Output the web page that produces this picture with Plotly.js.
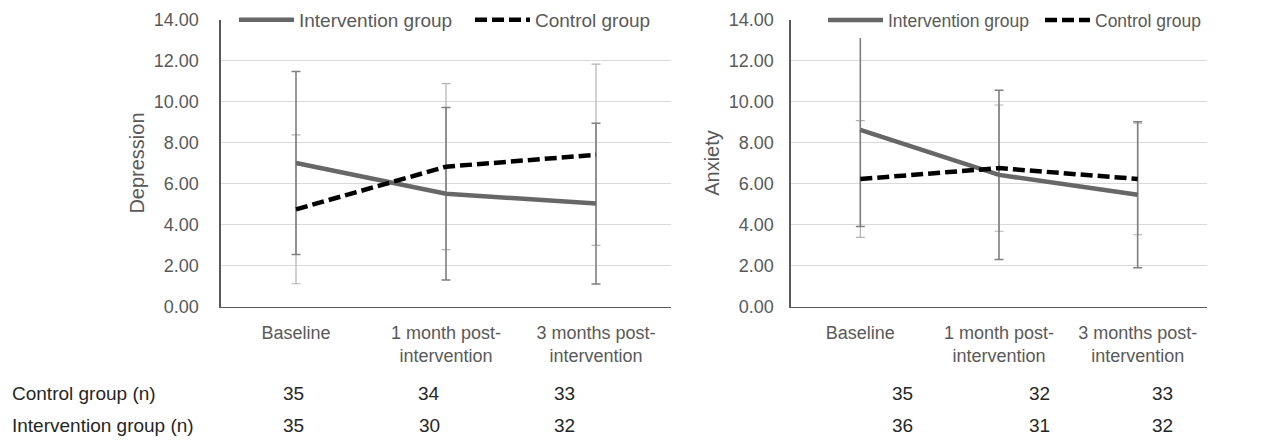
<!DOCTYPE html>
<html>
<head>
<meta charset="utf-8">
<script src="https://cdn.plot.ly/plotly-3.0.1.min.js"></script>
<style>
  html, body { margin: 0; padding: 0; background: #ffffff; }
  #chart { width: 1263px; height: 440px; }
</style>
</head>
<body>
<div id="chart"></div>
<script>
// ---------- data ----------
var categories = ['Baseline', '1 month post-<br>intervention', '3 months post-<br>intervention'];
var yTickVals = [0, 2, 4, 6, 8, 10, 12, 14];

var depInterventionMean = [7.00, 5.50, 5.02];
var depInterventionSD   = [4.46, 4.21, 3.92];
var depControlMean      = [4.74, 6.82, 7.40];
var depControlSD        = [3.63, 4.05, 4.42];

var anxInterventionMean = [8.62, 6.42, 5.45];
var anxInterventionSD   = [4.72, 4.13, 3.56];
var anxControlMean      = [6.22, 6.75, 6.22];
var anxControlSD        = [2.85, 3.08, 2.72];

var tableRowLabels   = ['Control group (n)', 'Intervention group (n)'];
var depControlN      = [35, 34, 33];
var depInterventionN = [35, 30, 32];
var anxControlN      = [35, 32, 33];
var anxInterventionN = [36, 31, 32];

// ---------- layout helpers ----------
var W = 1263, H = 440;
function px(x) { return x / W; }
function py(y) { return 1 - y / H; }
var FONT = 'Liberation Sans, Arial, sans-serif';
var GREY_TXT = '#595959';

function errTrace(xa, ya, means, sds, color, thick) {
  return {
    type: 'scatter', mode: 'markers', x: categories, y: means,
    xaxis: xa, yaxis: ya, showlegend: false, hoverinfo: 'skip',
    marker: { size: 1, color: 'rgba(0,0,0,0)' },
    error_y: { type: 'data', array: sds, visible: true, color: color, thickness: thick, width: 4.5 }
  };
}
function lineTrace(xa, ya, means, name, color, dash, legend) {
  return {
    type: 'scatter', mode: 'lines', x: categories, y: means, name: name,
    xaxis: xa, yaxis: ya, legend: legend,
    line: { color: color, width: 4.5, dash: dash }
  };
}

var INT_COL = '#676767', CTRL_COL = '#000000';
var INT_ERR = '#7f7f7f', CTRL_ERR = '#b3b3b3';

var data = [
  errTrace('x', 'y', depControlMean, depControlSD, CTRL_ERR, 1.2),
  errTrace('x', 'y', depInterventionMean, depInterventionSD, INT_ERR, 1.6),
  lineTrace('x', 'y', depInterventionMean, 'Intervention group', INT_COL, 'solid', 'legend'),
  lineTrace('x', 'y', depControlMean, 'Control group', CTRL_COL, '12px,5px', 'legend2'),
  errTrace('x2', 'y2', anxControlMean, anxControlSD, CTRL_ERR, 1.2),
  errTrace('x2', 'y2', anxInterventionMean, anxInterventionSD, INT_ERR, 1.6),
  lineTrace('x2', 'y2', anxInterventionMean, 'Intervention group', INT_COL, 'solid', 'legend3'),
  lineTrace('x2', 'y2', anxControlMean, 'Control group', CTRL_COL, '12px,5px', 'legend4')
];

function xAxis(domain, anchor) {
  return {
    domain: domain, anchor: anchor, type: 'category', range: [-0.5, 2.5],
    showline: true, linecolor: '#595959', linewidth: 1.6,
    showgrid: false, zeroline: false, ticks: '',
    tickfont: { family: FONT, size: 18, color: GREY_TXT },
    ticklabelstandoff: 9, fixedrange: true, automargin: false
  };
}
function yAxis(domain, anchor, title, standoff, tickStandoff) {
  return {
    domain: domain, anchor: anchor, range: [0, 14],
    tickvals: yTickVals, tickformat: '.2f',
    showgrid: true, gridcolor: '#d9d9d9', gridwidth: 1,
    zeroline: false, showline: true, linecolor: '#595959', linewidth: 1.6,
    ticks: '', ticklabelstandoff: tickStandoff,
    tickfont: { family: FONT, size: 18, color: GREY_TXT },
    title: { text: title, font: { family: FONT, size: 20, color: GREY_TXT }, standoff: standoff },
    fixedrange: true, automargin: false
  };
}

var yDom = [py(306.5), py(19.5)];

var annotations = [];
var rowY = [393, 425];
tableRowLabels.forEach(function (t, i) {
  annotations.push({
    xref: 'paper', yref: 'paper', x: px(10), y: py(rowY[i]), xanchor: 'left', yanchor: 'middle',
    text: t, showarrow: false, font: { family: FONT, size: 19, color: '#262626' }
  });
});
var depColX = [293, 429, 564];
var anxColX = [902, 1039, 1162];
function addRow(values, cols, yPix) {
  values.forEach(function (v, i) {
    annotations.push({
      xref: 'paper', yref: 'paper', x: px(cols[i]), y: py(yPix), xanchor: 'center', yanchor: 'middle',
      text: String(v), showarrow: false, font: { family: FONT, size: 19, color: '#262626' }
    });
  });
}
addRow(depControlN, depColX, rowY[0]);
addRow(depInterventionN, depColX, rowY[1]);
addRow(anxControlN, anxColX, rowY[0]);
addRow(anxInterventionN, anxColX, rowY[1]);

function legendAt(xPix, fontSize, itemW) {
  return {
    orientation: 'h', x: px(xPix), y: py(20), xanchor: 'left', yanchor: 'middle',
    bgcolor: '#ffffff', borderwidth: 0, itemwidth: itemW,
    font: { family: FONT, size: fontSize, color: GREY_TXT }
  };
}

var layout = {
  width: W, height: H,
  margin: { l: 0, r: 0, t: 0, b: 0 },
  paper_bgcolor: '#ffffff', plot_bgcolor: '#ffffff',
  font: { family: FONT, color: GREY_TXT },
  xaxis: xAxis([px(221), px(671)], 'y'),
  yaxis: yAxis(yDom, 'x', 'Depression', 4, 17),
  xaxis2: xAxis([px(791), px(1207)], 'y2'),
  yaxis2: yAxis(yDom, 'x2', 'Anxiety', 4, 12),
  legend: legendAt(234, 19, 55),
  legend2: legendAt(470, 19, 55),
  legend3: legendAt(823, 17.5, 55),
  legend4: legendAt(1040, 17.5, 45),
  annotations: annotations,
  showlegend: true
};

Plotly.newPlot('chart', data, layout, { staticPlot: true, displayModeBar: false });
</script>
</body>
</html>
